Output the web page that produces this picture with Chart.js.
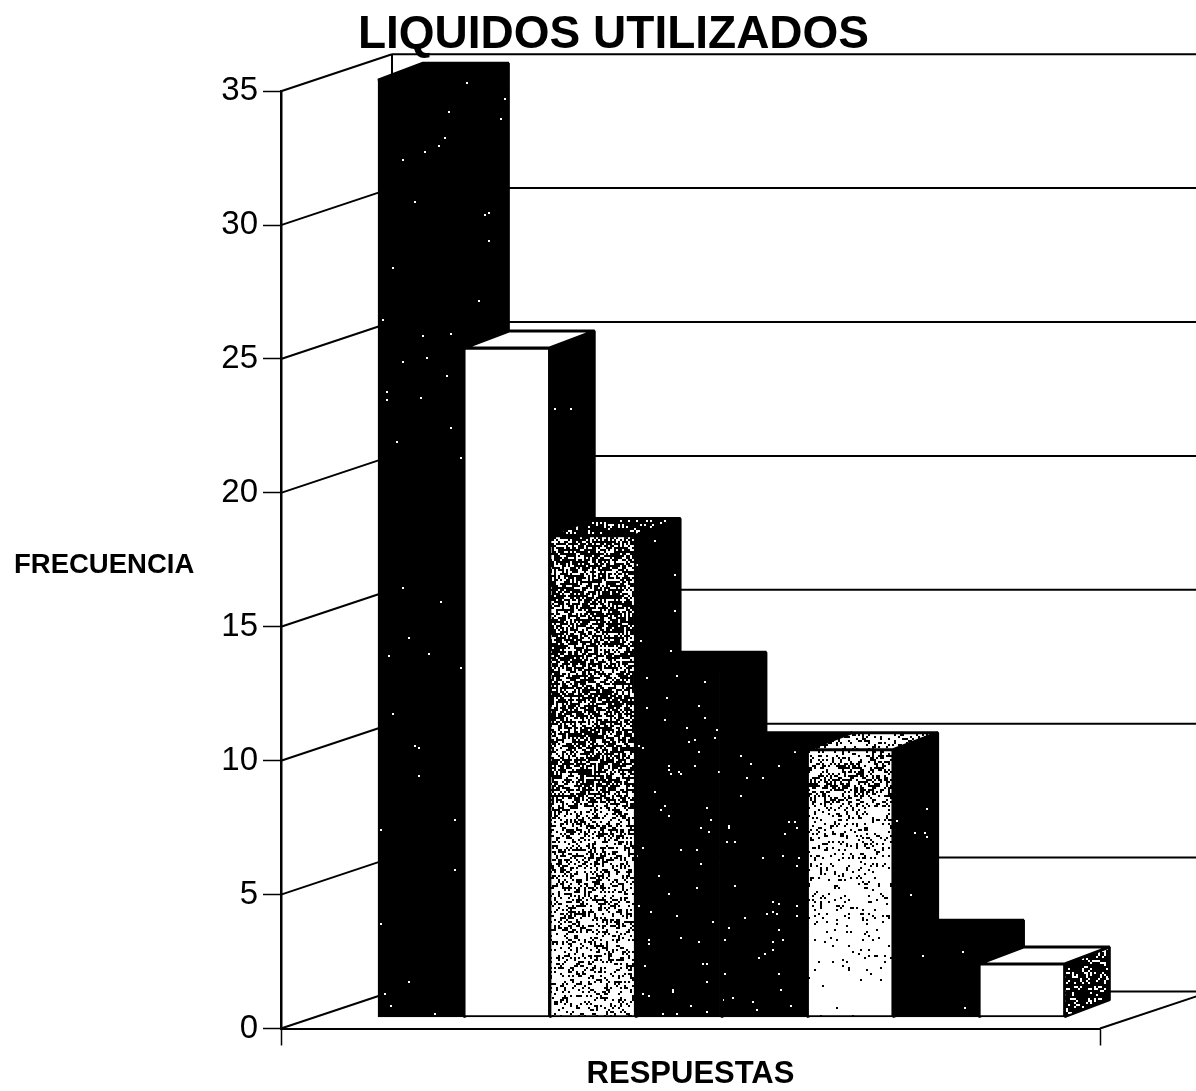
<!DOCTYPE html>
<html>
<head>
<meta charset="utf-8">
<style>html,body{margin:0;padding:0;background:#fff}canvas{display:block}</style>
<script src="https://cdn.jsdelivr.net/npm/chart.js@4"></script>
</head>
<body>
<div style="width:1196px;height:1091px"><canvas id="c" width="1196" height="1091"></canvas></div>
<script>
const chartTitle = 'LIQUIDOS UTILIZADOS';
const yTitle = 'FRECUENCIA';
const xTitle = 'RESPUESTAS';
const barOrder = [0, 1, 2, 3, 4, 5, 6, 7];
const values = [35, 25, 18, 13, 10, 10, 3, 2];
const yTicks = [0, 5, 10, 15, 20, 25, 30, 35];

const W = 1196, H = 1091;
function speckle(stops, ink, paper) {
  const cv = document.createElement('canvas');
  cv.width = W; cv.height = H;
  const g = cv.getContext('2d');
  g.fillStyle = paper; g.fillRect(0, 0, W, H);
  g.fillStyle = ink;
  const dens = y => {
    if (y <= stops[0][0]) return stops[0][1];
    for (let i = 1; i < stops.length; i++) {
      if (y <= stops[i][0]) {
        const t = (y - stops[i-1][0]) / (stops[i][0] - stops[i-1][0]);
        return stops[i-1][1] + t * (stops[i][1] - stops[i-1][1]);
      }
    }
    return stops[stops.length-1][1];
  };
  for (let y = 0; y < H; y += 2) for (let x = 0; x < W; x += 2) {
    const v = Math.sin(x * 12.9898 + y * 78.233) * 43758.5453;
    if (v - Math.floor(v) < dens(y)) g.fillRect(x, y, 2, 2);
  }
  return g.createPattern(cv, 'no-repeat');
}
const blackDots = speckle([[0, 0.002]], '#fff', '#000');
const darkDots = speckle([[0, 0.008]], '#fff', '#000');
const bar3 = speckle([[520, 0.64], [790, 0.64], [815, 0.42], [920, 0.34], [1017, 0.2]], '#000', '#fff');
const bar6 = speckle([[745, 0.05], [770, 0.3], [795, 0.55], [815, 0.22], [880, 0.12], [940, 0.04], [1017, 0.015]], '#000', '#fff');
const topDark = speckle([[0, 0.15]], '#fff', '#000');
const top6 = speckle([[0, 0.25]], '#000', '#fff');
const side8 = speckle([[0, 0.2]], '#fff', '#000');

const frontFills = [blackDots, '#ffffff', bar3, darkDots, darkDots, bar6, blackDots, '#ffffff'];
const topFills = ['#000000', '#ffffff', topDark, '#000000', '#000000', top6, '#000000', '#ffffff'];
const sideFills = [blackDots, blackDots, blackDots, '#000000', blackDots, blackDots, blackDots, side8];

const wallDX = 111, wallDY = 37, barDX = 45, barDY = 17, barShift = 11;

const threeD = {
  id: 'threeD',
  beforeDatasetsDraw(chart) {
    const { ctx, chartArea: a, scales: { y } } = chart;
    ctx.save();
    ctx.strokeStyle = '#000'; ctx.lineWidth = 2;
    const line = (x1, y1, x2, y2) => { ctx.beginPath(); ctx.moveTo(x1, y1); ctx.lineTo(x2, y2); ctx.stroke(); };
    yTicks.forEach(v => {
      const p = y.getPixelForValue(v);
      line(a.left, p, a.left + wallDX, p - wallDY);
      line(a.left + wallDX, p - wallDY, W, p - wallDY);
    });
    line(a.left + wallDX, y.getPixelForValue(35) - wallDY, a.left + wallDX, y.getPixelForValue(0) - wallDY);
    line(a.right, a.bottom, a.right + wallDX, a.bottom - wallDY);
    chart.getDatasetMeta(0).data.forEach((el, i) => {
      const l = el.x - el.width / 2, r = el.x + el.width / 2;
      const t = el.y - barShift, b = el.base - barShift;
      const poly = (pts, fill, lw) => {
        ctx.beginPath();
        pts.forEach((q, k) => k ? ctx.lineTo(q[0], q[1]) : ctx.moveTo(q[0], q[1]));
        ctx.closePath();
        ctx.fillStyle = fill; ctx.fill();
        ctx.lineJoin = 'bevel';
        ctx.lineWidth = lw; ctx.stroke();
      };
      poly([[r, t], [r + barDX, t - barDY], [r + barDX, b - barDY], [r, b]], sideFills[i], 2);
      poly([[l, t], [l + barDX, t - barDY], [r + barDX, t - barDY], [r, t]], topFills[i], 3);
    });
    ctx.restore();
  },
  beforeDatasetDraw(chart) { chart.ctx.save(); chart.ctx.translate(0, -barShift); },
  afterDatasetDraw(chart) { chart.ctx.restore(); },
  afterDraw(chart) {
    const { ctx } = chart;
    const t = chart.options.scales.y.title;
    ctx.save();
    ctx.fillStyle = '#000';
    ctx.font = 'bold 27.5px "Liberation Sans", Arial, sans-serif';
    ctx.textAlign = 'left'; ctx.textBaseline = 'middle';
    ctx.fillText(t.text, 14, 565);
    ctx.restore();
  }
};

new Chart(document.getElementById('c'), {
  type: 'bar',
  data: {
    datasets: [{
      data: barOrder.map((x, i) => ({ x, y: values[i] })),
      backgroundColor: frontFills,
      borderColor: '#000',
      borderWidth: 2,
      borderSkipped: false,
      barPercentage: 1,
      categoryPercentage: 1,
      clip: false
    }]
  },
  options: {
    responsive: false,
    animation: false,
    events: [],
    layout: { padding: { left: 127, right: 96, top: 8, bottom: 0 } },
    plugins: {
      legend: { display: false },
      tooltip: { enabled: false },
      title: {
        display: true, text: chartTitle, color: '#000',
        font: { family: '"Liberation Sans", Arial, sans-serif', size: 46, weight: 'bold', lineHeight: 1.2 },
        padding: { top: 0, bottom: 28 }
      }
    },
    scales: {
      x: {
        type: 'linear', min: -1.63, max: 7.91, offset: false,
        afterBuildTicks: s => { s.ticks = [{ value: s.min }, { value: s.max }]; },
        afterFit: s => { s.height = 62.5; },
        ticks: { callback: () => '', display: true, autoSkip: false, maxRotation: 0 },
        grid: { offset: false, drawOnChartArea: false, drawTicks: true, tickLength: 17, color: '#000', tickWidth: 1.5 },
        border: { color: '#000', width: 2 },
        title: {
          display: true, text: xTitle, color: '#000',
          font: { family: '"Liberation Sans", Arial, sans-serif', size: 31, weight: 'bold', lineHeight: 1 },
          padding: { top: 0, bottom: 1 }
        }
      },
      y: {
        min: 0, max: 35,
        afterFit: s => { s.width = 154; },
        ticks: { stepSize: 5, color: '#000', padding: 5,
          font: { family: '"Liberation Sans", Arial, sans-serif', size: 33 } },
        grid: { drawOnChartArea: false, drawTicks: true, tickLength: 18, color: '#000', tickWidth: 1.5 },
        border: { color: '#000', width: 2.5 },
        title: { display: false, text: yTitle }
      }
    }
  },
  plugins: [threeD]
});
</script>
</body>
</html>
